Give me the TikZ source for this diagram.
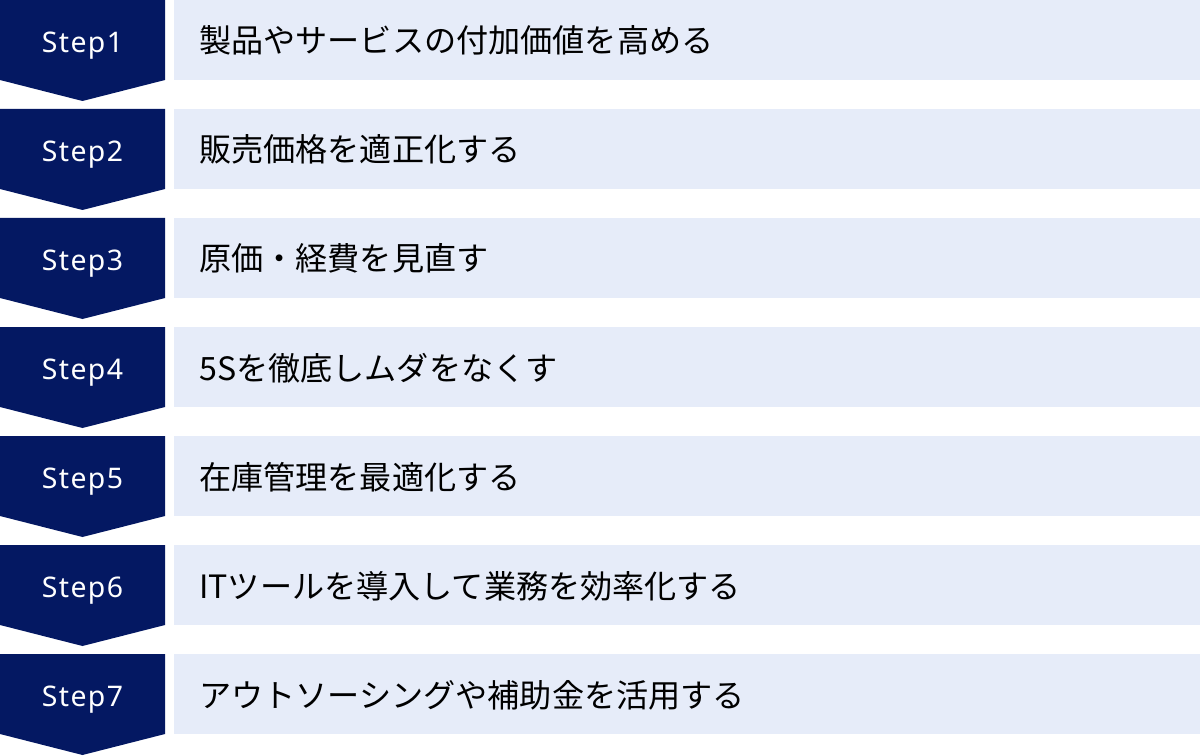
\documentclass[tikz,border=0pt]{standalone}
\usepackage{fontspec}
\setmainfont{Noto Sans CJK JP}
\newfontfamily\stepfont[LetterSpace=5]{Noto Sans}
\definecolor{navy}{HTML}{041862}
\definecolor{pale}{HTML}{E6ECF9}
\begin{document}
\begin{tikzpicture}[x=0.75pt,y=-0.75pt,
  stepshape/.style={fill=navy},
  panel/.style={fill=pale},
  steplabel/.style={text=white,font=\stepfont\fontsize{21.3}{25}\selectfont,anchor=base,inner sep=0pt},
  itemtext/.style={text=black,font=\fontsize{24.1}{28}\selectfont,anchor=base west,inner sep=0pt}]
\useasboundingbox (0,0) rectangle (1200,756);
\foreach \i/\t in {1/製品やサービスの付加価値を高める,
                   2/販売価格を適正化する,
                   3/原価・経費を見直す,
                   4/5Sを徹底しムダをなくす,
                   5/在庫管理を最適化する,
                   6/ITツールを導入して業務を効率化する,
                   7/アウトソーシングや補助金を活用する} {
  \pgfmathsetmacro\ytop{109*(\i-1)}
  \fill[stepshape] (0,\ytop) -- (165,\ytop) -- (165,\ytop+80) -- (82.5,\ytop+101) -- (0,\ytop+80) -- cycle;
  \fill[panel] (174,\ytop) rectangle (1200,\ytop+80);
  \node[steplabel] (l\i) at (82.5,\ytop+52.7) {Step\i};
  \node[itemtext] (t\i) at (199,\ytop+53) {\t};
}
\end{tikzpicture}
\end{document}
